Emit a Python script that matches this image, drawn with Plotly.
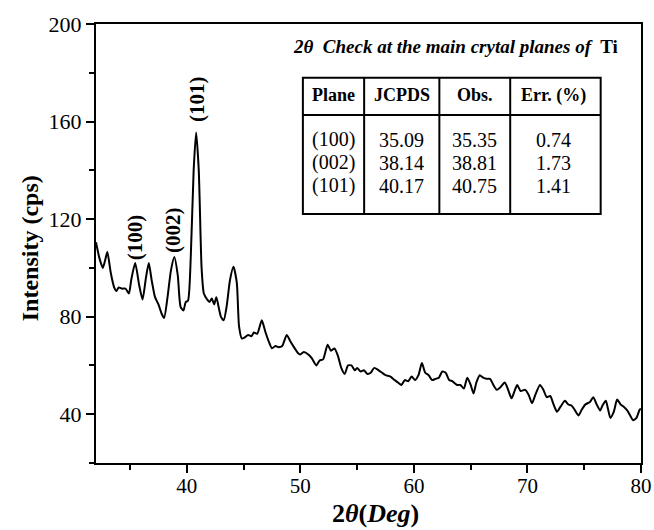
import plotly.graph_objects as go

# ---- data ----
two_theta = [32.0, 32.3, 32.6, 32.8, 33.0, 33.3, 33.6, 33.8, 34.0, 34.3, 34.6, 34.9,
             35.1, 35.45, 35.8, 36.1, 36.4, 36.65, 36.9, 37.2, 37.5, 37.8, 38.0, 38.3,
             38.6, 38.9, 39.2, 39.45, 39.7, 39.9, 40.1, 40.35, 40.6, 40.82, 41.05, 41.3,
             41.5, 41.8, 42.0, 42.2, 42.4, 42.6, 42.8, 43.0, 43.25, 43.5, 43.8, 44.1,
             44.4, 44.6, 44.85, 45.1, 45.4, 45.7, 45.9, 46.2, 46.6, 46.9, 47.2, 47.5,
             47.8, 48.1, 48.4, 48.8, 49.1, 49.5, 49.8, 50.0, 50.3, 50.7, 51.0, 51.4,
             51.7, 52.0, 52.4, 52.7, 53.0, 53.3, 53.6, 53.9, 54.2, 54.5, 54.8, 55.0,
             55.3, 55.6, 55.9, 56.2, 56.5, 56.9, 57.2, 57.5, 57.9, 58.3, 58.6, 58.9,
             59.2, 59.5, 59.8, 60.1, 60.4, 60.7, 61.0, 61.3, 61.6, 61.9, 62.2, 62.5,
             62.8, 63.1, 63.4, 63.8, 64.1, 64.4, 64.7, 65.0, 65.25, 65.5, 65.8, 66.1,
             66.4, 66.7, 67.0, 67.3, 67.6, 68.0, 68.3, 68.6, 68.9, 69.1, 69.4, 69.8,
             70.1, 70.4, 70.7, 71.1, 71.4, 71.7, 72.0, 72.3, 72.6, 72.9, 73.3, 73.6,
             73.9, 74.2, 74.5, 74.8, 75.1, 75.5, 75.8, 76.1, 76.4, 76.6, 76.9, 77.1,
             77.3, 77.6, 77.9, 78.2, 78.5, 78.8, 79.1, 79.3, 79.6, 79.9, 80.0]
intensity = [110.5, 104, 100, 103, 106.5, 98, 92, 90.5, 92, 91.5, 91.5, 89.5,
             95, 102, 93, 87, 96, 102, 95, 88, 85, 81, 79.5, 88,
             99, 104.5, 97, 84, 82.5, 86, 86.5, 105, 140, 155.5, 140, 100,
             89.5, 87, 86, 87.5, 85, 88, 84, 80, 78.5, 84, 95, 100.5,
             94, 76, 71, 71.5, 72.5, 72, 73.5, 73, 78.5, 74, 70, 67,
             68, 67.5, 68, 72.5, 70, 67, 65, 64.5, 65.5, 64.5, 63, 60,
             62, 62.5, 68.5, 66, 67, 64, 59, 56.5, 60, 60, 58, 59,
             57.5, 58, 56.5, 57, 59, 58, 57, 56, 55.5, 54, 53, 52,
             54, 53.5, 55.5, 54, 56, 61, 57, 56, 54, 54.5, 55, 57.5,
             57, 54, 53.5, 52, 52, 50.5, 55, 52, 48.5, 53, 56, 55,
             54.5, 54.5, 52, 50, 51, 53, 50, 46.5, 50, 52, 49.5, 50,
             48, 44.5, 48, 52, 50, 47, 47.5, 44, 41, 43, 45.5, 44,
             43.5, 41.5, 39.5, 42, 44, 45, 47, 44, 41.5, 43.5, 45.5, 42,
             38.5, 41, 46, 44, 43, 41.5, 39, 37.5, 38.5, 42, 42]

peak_labels = ["(100)", "(002)", "(101)"]
peak_x = [35.46, 38.74, 40.89]
peak_y = [112.7, 115.3, 169.2]

table_title = "<b><i>2θ  Check at the main crytal planes of </i> Ti</b>"
table_header = ["Plane", "JCPDS", "Obs.", "Err. (%)"]
planes = ["(100)", "(002)", "(101)"]
jcpds = ["35.09", "38.14", "40.17"]
observed = ["35.35", "38.81", "40.75"]
error_pct = ["0.74", "1.73", "1.41"]

x_ticks = [40, 50, 60, 70, 80]
y_ticks = [40, 80, 120, 160, 200]

x_title = "<b>2<i>θ</i>(<i>Deg</i>)</b>"
y_title = "<b>Intensity (cps)</b>"

SERIF = "Liberation Serif, Times New Roman, serif"

fig = go.Figure()
fig.add_trace(go.Scatter(x=two_theta, y=intensity, mode="lines",
                         line=dict(color="black", width=2, shape="spline", smoothing=0.6),
                         showlegend=False, hoverinfo="skip"))

annotations = []
for lab, px, py in zip(peak_labels, peak_x, peak_y):
    annotations.append(dict(x=px, y=py, xref="x", yref="y", text=f"<b>{lab}</b>",
                            textangle=-90, showarrow=False, xanchor="center", yanchor="middle",
                            font=dict(family=SERIF, size=21, color="black")))

# table geometry (paper coords)
tx0, tx1 = 0.3796, 0.926
ty0, ty1 = 0.5672, 0.8777
ty_head = 0.7927
col_lines = [0.492, 0.630, 0.760]
col_centers = [0.436, 0.561, 0.695, 0.840]
head_y = 0.838
row_ys = [0.7358, 0.684, 0.631]

shapes = [dict(type="rect", xref="paper", yref="paper", x0=tx0, x1=tx1, y0=ty0, y1=ty1,
               line=dict(color="black", width=2)),
          dict(type="line", xref="paper", yref="paper", x0=tx0, x1=tx1, y0=ty_head, y1=ty_head,
               line=dict(color="black", width=2))]
for cx in col_lines:
    shapes.append(dict(type="line", xref="paper", yref="paper", x0=cx, x1=cx, y0=ty0, y1=ty1,
                       line=dict(color="black", width=2)))

annotations.append(dict(x=0.6605, y=0.948, xref="paper", yref="paper", text=table_title,
                        showarrow=False, xanchor="center", yanchor="middle",
                        font=dict(family=SERIF, size=19, color="black")))
for h, cx in zip(table_header, col_centers):
    annotations.append(dict(x=cx, y=head_y, xref="paper", yref="paper", text=f"<b>{h}</b>",
                            showarrow=False, xanchor="center", yanchor="middle",
                            font=dict(family=SERIF, size=18, color="black")))
for col, cx in zip([planes, jcpds, observed, error_pct], col_centers):
    for val, ry in zip(col, row_ys):
        annotations.append(dict(x=cx, y=ry, xref="paper", yref="paper", text=val,
                                showarrow=False, xanchor="center", yanchor="middle",
                                font=dict(family=SERIF, size=20, color="black")))

# axis titles
annotations.append(dict(x=0.512, y=-0.1515, xref="paper", yref="paper", text=x_title,
                        showarrow=False, xanchor="center", yanchor="bottom",
                        font=dict(family=SERIF, size=26, color="black")))
annotations.append(dict(x=-0.1205, y=0.49, xref="paper", yref="paper", text=y_title,
                        textangle=-90, showarrow=False, xanchor="center", yanchor="middle",
                        font=dict(family=SERIF, size=24, color="black")))

fig.update_layout(
    width=654, height=530,
    margin=dict(l=96, r=13, t=24, b=67),
    paper_bgcolor="white", plot_bgcolor="white",
    font=dict(family=SERIF, color="black"),
    shapes=shapes, annotations=annotations,
    xaxis=dict(range=[32, 80], tickvals=x_ticks, ticks="outside", ticklen=8, tickwidth=1.5,
               tickcolor="black", showline=True, linecolor="black", linewidth=2, mirror=True,
               showgrid=False, zeroline=False, automargin=False, ticklabelstandoff=-5,
               tickfont=dict(family=SERIF, size=21, color="black"),
               minor=dict(dtick=5, tick0=0, ticks="outside", ticklen=5, tickwidth=1.5, tickcolor="black", showgrid=False)),
    yaxis=dict(range=[20, 200], tickvals=y_ticks, ticks="outside", ticklen=8, tickwidth=1.5,
               tickcolor="black", showline=True, linecolor="black", linewidth=2, mirror=True,
               showgrid=False, zeroline=False, automargin=False,
               tickfont=dict(family=SERIF, size=22, color="black"),
               minor=dict(dtick=20, tick0=0, ticks="outside", ticklen=5, tickwidth=1.5, tickcolor="black", showgrid=False)),
)

fig.write_html("out.html")
